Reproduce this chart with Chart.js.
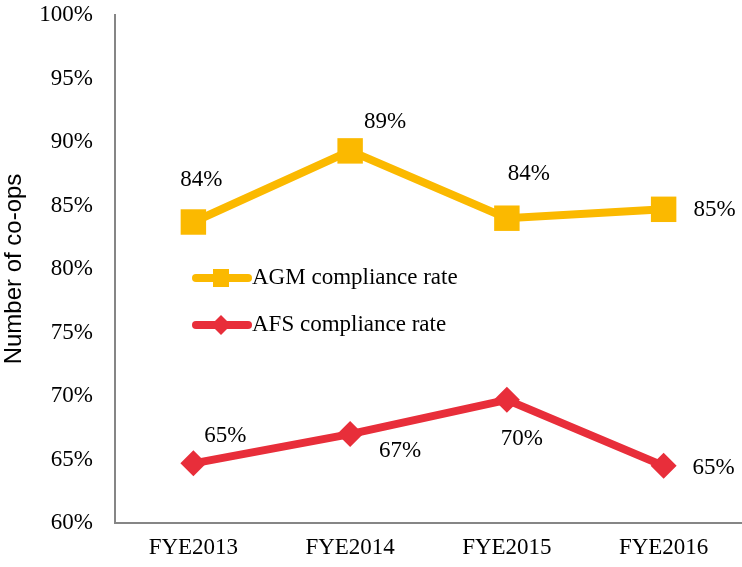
<!DOCTYPE html>
<html>
<head>
<meta charset="utf-8">
<script src="https://cdn.jsdelivr.net/npm/chart.js@4/dist/chart.umd.min.js"></script>
<style>
html,body{margin:0;padding:0;background:#fff;}
canvas{display:block;}
</style>
</head>
<body>
<canvas id="c" width="742" height="567"></canvas>
<script>
const categories = ['FYE2013','FYE2014','FYE2015','FYE2016'];
const agmRate = [83.7, 89.3, 84.0, 84.7];
const afsRate = [64.7, 67.0, 69.7, 64.5];
const agmLabels = ['84%','89%','84%','85%'];
const afsLabels = ['65%','67%','70%','65%'];
const seriesNames = ['AGM compliance rate','AFS compliance rate'];

const AGM_COLOR = '#FBB900';
const AFS_COLOR = '#E82E3A';
const SERIF = '"Liberation Serif", "Times New Roman", serif';

// label offsets (px) relative to each point
const agmOffsets = [[8,-42],[35,-29],[22,-44],[51,1]];
const afsOffsets = [[32,-27],[50,17],[15,39],[50,2]];

const labelPlugin = {
  id:'pointLabels',
  afterDatasetsDraw(chart){
    const ctx = chart.ctx;
    ctx.save();
    ctx.font = '23px ' + SERIF;
    ctx.fillStyle = '#000';
    ctx.textAlign = 'center';
    ctx.textBaseline = 'middle';
    const sets = [[agmLabels, agmOffsets],[afsLabels, afsOffsets]];
    sets.forEach((s, di) => {
      const meta = chart.getDatasetMeta(di);
      meta.data.forEach((pt, i) => {
        ctx.fillText(s[0][i], pt.x + s[1][i][0], pt.y + s[1][i][1]);
      });
    });
    ctx.restore();
  }
};

const legendPlugin = {
  id:'innerLegend',
  afterDatasetsDraw(chart){
    const ctx = chart.ctx;
    ctx.save();
    const items = [
      {y:278, color:AGM_COLOR, shape:'rect'},
      {y:325, color:AFS_COLOR, shape:'diamond'}
    ];
    items.forEach((it, i) => {
      ctx.strokeStyle = it.color;
      ctx.lineWidth = 8;
      ctx.lineCap = 'round';
      ctx.beginPath();
      ctx.moveTo(196, it.y);
      ctx.lineTo(248, it.y);
      ctx.stroke();
      ctx.fillStyle = it.color;
      if (it.shape === 'rect') {
        ctx.fillRect(221-8, it.y-9, 16, 18);
      } else {
        ctx.beginPath();
        ctx.moveTo(221-10, it.y);
        ctx.lineTo(221, it.y-10);
        ctx.lineTo(221+10, it.y);
        ctx.lineTo(221, it.y+10);
        ctx.closePath();
        ctx.fill();
      }
      ctx.fillStyle = '#000';
      ctx.font = '23px ' + SERIF;
      ctx.textAlign = 'left';
      ctx.textBaseline = 'middle';
      ctx.fillText(seriesNames[i], 252, it.y);
    });
    ctx.restore();
  }
};

new Chart(document.getElementById('c'), {
  type:'line',
  data:{
    labels:categories,
    datasets:[
      {label:seriesNames[0], data:agmRate, borderColor:AGM_COLOR, backgroundColor:AGM_COLOR,
       borderWidth:8, tension:0, pointStyle:'rect', pointRadius:18, pointBorderWidth:0,
       pointBackgroundColor:AGM_COLOR, clip:false},
      {label:seriesNames[1], data:afsRate, borderColor:AFS_COLOR, backgroundColor:AFS_COLOR,
       borderWidth:8, tension:0, pointStyle:'rectRot', pointRadius:13, pointBorderWidth:0,
       pointBackgroundColor:AFS_COLOR, clip:false}
    ]
  },
  options:{
    responsive:false,
    animation:false,
    layout:{autoPadding:false, padding:{top:15,left:0,right:0,bottom:0}},
    plugins:{legend:{display:false}, tooltip:{enabled:false}},
    scales:{
      x:{
        offset:true,
        grid:{display:false, drawTicks:false},
        border:{display:true, color:'#868686', width:2},
        ticks:{font:{family:SERIF, size:23}, color:'#000', padding:11, maxRotation:0},
        afterFit(s){ s.height = 44; s.paddingLeft = 0; s.paddingRight = 0; }
      },
      y:{
        min:60, max:100,
        grid:{display:false, drawTicks:false},
        border:{display:true, color:'#868686', width:2},
        ticks:{stepSize:5, callback:v => v + '%', font:{family:SERIF, size:23}, color:'#000', padding:22},
        title:{display:true, text:'Number of co-ops', font:{family:'"Liberation Sans", Arial, sans-serif', size:24}, color:'#000', padding:{top:0,bottom:0}},
        afterFit(s){ s.width = 115; s.paddingTop = 0; s.paddingBottom = 0; }
      }
    }
  },
  plugins:[labelPlugin, legendPlugin]
});
</script>
</body>
</html>
